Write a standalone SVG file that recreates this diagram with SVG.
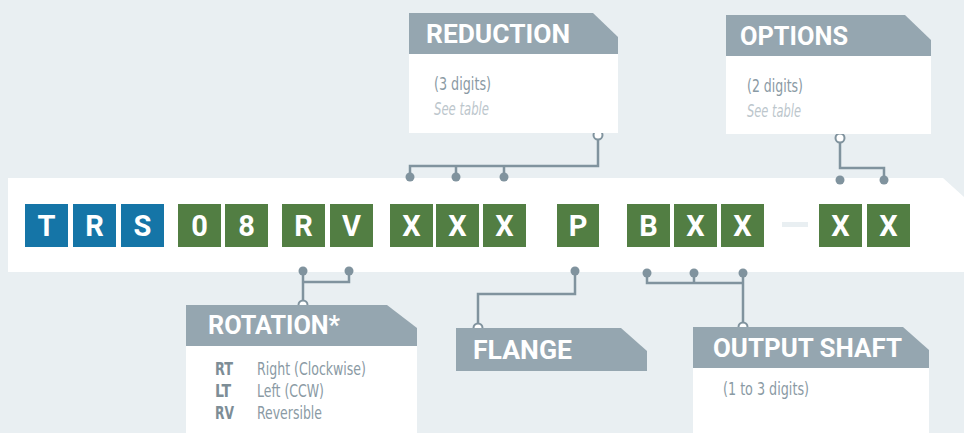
<svg xmlns="http://www.w3.org/2000/svg" width="964" height="433" viewBox="0 0 964 433">
<defs>
<style>
.hdr{fill:#95a6b0}
.body{fill:#ffffff}
.ht{font-family:Roboto,"DejaVu Sans",sans-serif;font-weight:700;font-size:25px;fill:#ffffff}
.bt{font-family:"DejaVu Sans Condensed","Liberation Sans Narrow","Liberation Sans",sans-serif;font-size:17px;fill:#8a9aa4}
.it{font-family:"DejaVu Sans Condensed","Liberation Sans Narrow","Liberation Sans",sans-serif;font-size:17px;fill:#bcc6cc;font-style:italic}
.code{font-family:"DejaVu Sans Condensed","Liberation Sans Narrow",sans-serif;font-size:17px;font-weight:700;fill:#7d8d96}
.b{fill:#1575a7}
.g{fill:#527e43}
.lt{font-family:Roboto,"DejaVu Sans",sans-serif;font-weight:700;font-size:29px;fill:#ffffff;text-anchor:middle}
.ln{fill:none;stroke:#80939e;stroke-width:2.5}
.dot{fill:#80939e}
.ring{fill:#ffffff;stroke:#80939e;stroke-width:2}
</style>
</defs>
<rect width="964" height="433" fill="#e9eff2"/>
<polygon points="8,178 943,178 964,197 964,272 8,272" fill="#ffffff"/>

<g id="connectors">
<path class="ln" d="M598,136 V166 H410 V177 M456,166 V177 M504,166 V177"/>
<circle class="ring" cx="598" cy="135" r="4.5"/>
<circle class="dot" cx="410" cy="177" r="4.5"/>
<circle class="dot" cx="456" cy="177" r="4.5"/>
<circle class="dot" cx="504" cy="177" r="4.5"/>
<path class="ln" d="M840,139 V168 H884 V180"/>
<circle class="ring" cx="840" cy="138" r="4.5"/>
<circle class="dot" cx="840" cy="180" r="4.5"/>
<circle class="dot" cx="884" cy="180" r="4.5"/>
<path class="ln" d="M303,271 V305 M303,282 H349 V271"/>
<circle class="dot" cx="303" cy="271" r="4.5"/>
<circle class="dot" cx="349" cy="271" r="4.5"/>
<circle class="ring" cx="303" cy="305" r="4.5"/>
<path class="ln" d="M575,271 V294 H478 V328"/>
<circle class="dot" cx="575" cy="271" r="4.5"/>
<circle class="ring" cx="478" cy="328" r="4.5"/>
<path class="ln" d="M647,273 V283 H743 V327 M694,273 V283 M743,273 V283"/>
<circle class="dot" cx="647" cy="273" r="4.5"/>
<circle class="dot" cx="694" cy="273" r="4.5"/>
<circle class="dot" cx="743" cy="273" r="4.5"/>
<circle class="ring" cx="743" cy="327" r="4.5"/>
</g>

<g id="code">
<rect class="b" x="25" y="204" width="43" height="43"/><text class="lt" x="46.5" y="236">T</text>
<rect class="b" x="73" y="204" width="43" height="43"/><text class="lt" x="94.5" y="236">R</text>
<rect class="b" x="121" y="204" width="43" height="43"/><text class="lt" x="142.5" y="236">S</text>
<rect class="g" x="178" y="204" width="43" height="43"/><text class="lt" x="199.5" y="236">0</text>
<rect class="g" x="225" y="204" width="43" height="43"/><text class="lt" x="246.5" y="236">8</text>
<rect class="g" x="282" y="204" width="43" height="43"/><text class="lt" x="303.5" y="236">R</text>
<rect class="g" x="330" y="204" width="43" height="43"/><text class="lt" x="351.5" y="236">V</text>
<rect class="g" x="390" y="204" width="43" height="43"/><text class="lt" x="411.5" y="236">X</text>
<rect class="g" x="436" y="204" width="43" height="43"/><text class="lt" x="457.5" y="236">X</text>
<rect class="g" x="483" y="204" width="43" height="43"/><text class="lt" x="504.5" y="236">X</text>
<rect class="g" x="557" y="204" width="42" height="43"/><text class="lt" x="578" y="236">P</text>
<rect class="g" x="627" y="204" width="43" height="43"/><text class="lt" x="648.5" y="236">B</text>
<rect class="g" x="674" y="204" width="43" height="43"/><text class="lt" x="695.5" y="236">X</text>
<rect class="g" x="721" y="204" width="43" height="43"/><text class="lt" x="742.5" y="236">X</text>
<rect x="782" y="222" width="26" height="5" fill="#e9eff2"/>
<rect class="g" x="819" y="204" width="43" height="43"/><text class="lt" x="840.5" y="236">X</text>
<rect class="g" x="867" y="204" width="43" height="43"/><text class="lt" x="888.5" y="236">X</text>
</g>

<g id="reduction">
<rect class="body" x="409" y="54" width="209" height="79"/>
<polygon class="hdr" points="409,13 593,13 618,37 618,54 409,54"/>
<text class="ht" x="426" y="43" textLength="144" lengthAdjust="spacingAndGlyphs">REDUCTION</text>
<text class="bt" x="434" y="90" textLength="57" lengthAdjust="spacingAndGlyphs">(3 digits)</text>
<text class="it" x="434" y="115" textLength="55" lengthAdjust="spacingAndGlyphs">See table</text>
</g>

<g id="options">
<rect class="body" x="726" y="56" width="205" height="78"/>
<polygon class="hdr" points="726,15 905,15 931,40 931,56 726,56"/>
<text class="ht" x="740" y="45" textLength="108" lengthAdjust="spacingAndGlyphs">OPTIONS</text>
<text class="bt" x="747" y="92" textLength="56" lengthAdjust="spacingAndGlyphs">(2 digits)</text>
<text class="it" x="747" y="117" textLength="54" lengthAdjust="spacingAndGlyphs">See table</text>
</g>

<g id="rotation">
<rect class="body" x="186" y="346" width="231" height="87"/>
<polygon class="hdr" points="186,305 387,305 417,328 417,346 186,346"/>
<text class="ht" x="208" y="334" textLength="132" lengthAdjust="spacingAndGlyphs">ROTATION*</text>
<text class="code" x="215" y="375" textLength="18" lengthAdjust="spacingAndGlyphs">RT</text><text class="bt" x="257" y="375" textLength="109" lengthAdjust="spacingAndGlyphs">Right (Clockwise)</text>
<text class="code" x="215" y="397" textLength="16" lengthAdjust="spacingAndGlyphs">LT</text><text class="bt" x="257" y="397" textLength="67" lengthAdjust="spacingAndGlyphs">Left (CCW)</text>
<text class="code" x="215" y="419" textLength="19" lengthAdjust="spacingAndGlyphs">RV</text><text class="bt" x="257" y="419" textLength="65" lengthAdjust="spacingAndGlyphs">Reversible</text>
</g>

<g id="flange">
<polygon class="hdr" points="456,328 621,328 647,351 647,371 456,371"/>
<text class="ht" x="473" y="359" textLength="99" lengthAdjust="spacingAndGlyphs">FLANGE</text>
</g>

<g id="output-shaft">
<rect class="body" x="693" y="368" width="236" height="65"/>
<polygon class="hdr" points="693,327 903,327 929,350 929,368 693,368"/>
<text class="ht" x="713" y="357" textLength="189" lengthAdjust="spacingAndGlyphs">OUTPUT SHAFT</text>
<text class="bt" x="723" y="395" textLength="86" lengthAdjust="spacingAndGlyphs">(1 to 3 digits)</text>
</g>
</svg>
